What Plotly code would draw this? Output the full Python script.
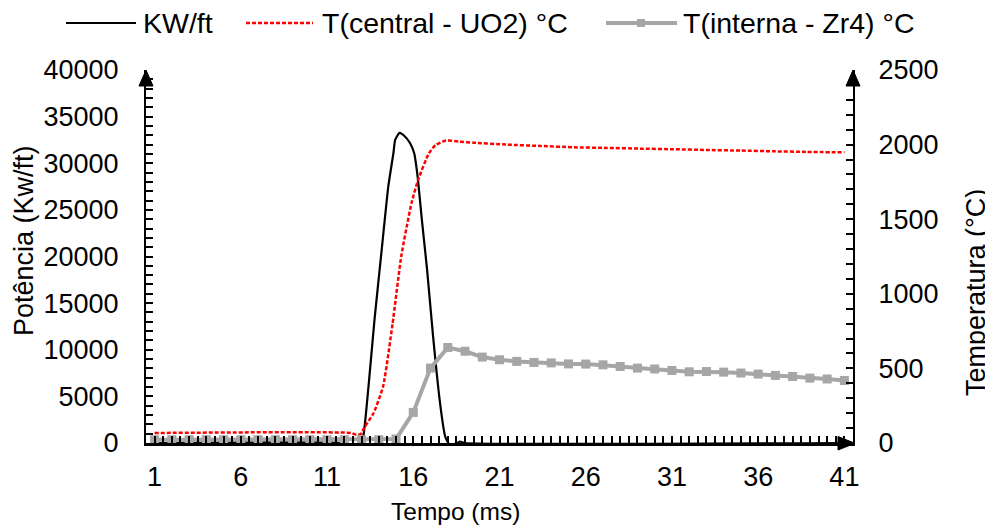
import plotly.graph_objects as go

# ---------------- data ----------------
# Power (KW/ft), left axis
power_t = [1, 12.0, 12.2, 12.6, 12.9, 13.1, 13.4, 13.75, 14.15, 14.55, 14.85, 14.95,
           15.2, 15.5, 15.8, 16.05, 16.25, 16.5, 16.8, 17.15, 17.55, 17.85, 18.1,
           18.4, 18.7, 19.0, 41]
power_kw = [0, 0, -150, -350, -150, 700, 6000, 13200, 20400, 27500, 31100, 32500,
            33250, 32900, 32200, 31100, 28600, 23900, 18600, 11400, 4300, 700, -180,
            -200, 150, 0, 0]

# Central fuel temperature (UO2), right axis
central_t = [1, 12.4, 12.7, 12.95, 13.2, 13.7, 14.25, 14.8, 15.3, 15.9, 16.3, 16.9,
             17.3, 17.9, 18.7, 19.5, 21.4, 23.35, 25.3, 27.2, 29.15, 31.1, 33.0,
             35.0, 36.9, 38.8, 41]
central_c = [67, 67, 55, 60, 111, 201, 379, 800, 1250, 1610, 1770, 1940,
             1998, 2027, 2020, 2013, 2000, 1991, 1982, 1978, 1973, 1969, 1964,
             1960, 1955, 1951, 1948]

# Internal cladding temperature (Zr4), right axis
interna_t = list(range(1, 42))
interna_c = [22, 22, 22, 22, 22, 22, 22, 22, 22, 22, 22, 22, 22, 22, 27, 205, 502,
             640, 615, 576, 558, 547, 540, 537, 530, 529, 524, 513, 502, 496, 486,
             477, 479, 475, 469, 462, 453, 446, 435, 429, 419]

x_tickvals = [1, 6, 11, 16, 21, 26, 31, 36, 41]
x_ticktext = ["1", "6", "11", "16", "21", "26", "31", "36", "41"]

series_names = ["KW/ft", "T(central - UO2) °C", "T(interna - Zr4) °C"]

# ---------------- layout helpers ----------------
OFF = 8                      # page body margin in the browser
W, H = 993 - OFF, 527 - OFF  # figure size
L, R, T, B = 146 - OFF, 140, 70 - OFF, 84
PW, PH = W - L - R, H - T - B
FONT = "Liberation Sans, Arial, sans-serif"


def px(xs):
    """screen x pixel -> paper fraction"""
    return (xs - OFF - L) / PW


def py(ys):
    """screen y pixel -> paper fraction"""
    return (H - B - (ys - OFF)) / PH


fig = go.Figure()
fig.add_trace(go.Scatter(x=power_t, y=power_kw, mode="lines", name=series_names[0],
                         line=dict(color="black", width=2.2, shape="spline",
                                   smoothing=0.5), yaxis="y"))
fig.add_trace(go.Scatter(x=central_t, y=central_c, mode="lines", name=series_names[1],
                         line=dict(color="#FF0000", width=2.5, dash="4px,2px",
                                   shape="spline", smoothing=0.5),
                         yaxis="y2"))
fig.add_trace(go.Scatter(x=interna_t, y=interna_c, mode="lines+markers",
                         name=series_names[2],
                         line=dict(color="#A6A6A6", width=4),
                         marker=dict(symbol="square", size=9, color="#A6A6A6"),
                         yaxis="y2", cliponaxis=False))

tickfont = dict(family=FONT, size=27, color="black")

fig.update_layout(
    width=W, height=H,
    margin=dict(l=L, r=R, t=T, b=B, pad=0),
    paper_bgcolor="white", plot_bgcolor="white",
    showlegend=False,
    font=dict(family=FONT, size=24, color="black"),
    xaxis=dict(range=[0.5, 41.5], tickmode="array", tickvals=x_tickvals,
               ticktext=x_ticktext, showline=True, linecolor="black", linewidth=3,
               ticks="inside", ticklen=7, tickwidth=1.5, tickcolor="black",
               minor=dict(dtick=0.5, tick0=0.5, ticks="inside", ticklen=7,
                          tickwidth=1.5, tickcolor="black"),
               showgrid=False, zeroline=False, tickfont=tickfont,
               ticklabelstandoff=8),
    yaxis=dict(range=[0, 40000], dtick=5000, tickformat="d", showline=True,
               linecolor="black", linewidth=2, ticks="inside", ticklen=7,
               tickwidth=1.5, tickcolor="black",
               minor=dict(dtick=1000, ticks="inside", ticklen=7, tickwidth=1.5,
                          tickcolor="black"),
               showgrid=False, zeroline=False, tickfont=tickfont,
               ticklabelstandoff=20),
    yaxis2=dict(range=[0, 2500], dtick=500, tickformat="d", overlaying="y",
                side="right", showline=True, linecolor="black", linewidth=2,
                ticks="inside", ticklen=7, tickwidth=1.5, tickcolor="black",
                minor=dict(dtick=100, ticks="inside", ticklen=7, tickwidth=1.5,
                           tickcolor="black"),
                showgrid=False, zeroline=False, tickfont=tickfont,
                ticklabelstandoff=18),
)

shapes = []
# axis arrowheads
shapes.append(dict(type="path", xref="paper", yref="paper", fillcolor="black",
                   line=dict(color="black", width=1),
                   path=f"M {px(139)},{py(86)} L {px(153)},{py(86)} L {px(146)},{py(70)} Z"))
shapes.append(dict(type="path", xref="paper", yref="paper", fillcolor="black",
                   line=dict(color="black", width=1),
                   path=f"M {px(846)},{py(86)} L {px(860)},{py(86)} L {px(853)},{py(70)} Z"))
shapes.append(dict(type="path", xref="paper", yref="paper", fillcolor="black",
                   line=dict(color="black", width=1),
                   path=f"M {px(838)},{py(436.5)} L {px(838)},{py(450)} L {px(855)},{py(443.3)} Z"))

# manual legend
LEG_Y = 23
shapes.append(dict(type="line", xref="paper", yref="paper", x0=px(66), x1=px(136),
                   y0=py(LEG_Y), y1=py(LEG_Y), line=dict(color="black", width=2.2)))
shapes.append(dict(type="line", xref="paper", yref="paper", x0=px(246), x1=px(313),
                   y0=py(LEG_Y), y1=py(LEG_Y),
                   line=dict(color="#FF0000", width=2.5, dash="4px,2px")))
shapes.append(dict(type="line", xref="paper", yref="paper", x0=px(606), x1=px(677),
                   y0=py(LEG_Y), y1=py(LEG_Y), line=dict(color="#A6A6A6", width=4)))
shapes.append(dict(type="rect", xref="paper", yref="paper", x0=px(637), x1=px(645),
                   y0=py(LEG_Y + 4), y1=py(LEG_Y - 4), fillcolor="#A6A6A6",
                   line=dict(width=0)))
fig.update_layout(shapes=shapes)

annotations = []
for name, xstart in zip(series_names, [141, 320, 681]):
    annotations.append(dict(text=name, x=px(xstart), y=py(LEG_Y), xref="paper",
                            yref="paper", xanchor="left", yanchor="middle",
                            showarrow=False, font=dict(family=FONT, size=28.5)))
annotations.append(dict(text="Tempo (ms)", x=px(455), y=py(511), xref="paper",
                        yref="paper", xanchor="center", yanchor="middle",
                        showarrow=False, font=dict(family=FONT, size=24.5)))
annotations.append(dict(text="Potência (Kw/ft)", x=px(24), y=py(241), xref="paper",
                        yref="paper", xanchor="center", yanchor="middle",
                        textangle=-90, showarrow=False,
                        font=dict(family=FONT, size=27)))
annotations.append(dict(text="Temperatura (°C)", x=px(976), y=py(292), xref="paper",
                        yref="paper", xanchor="center", yanchor="middle",
                        textangle=-90, showarrow=False,
                        font=dict(family=FONT, size=27)))
fig.update_layout(annotations=annotations)

fig.write_html("out.html")
